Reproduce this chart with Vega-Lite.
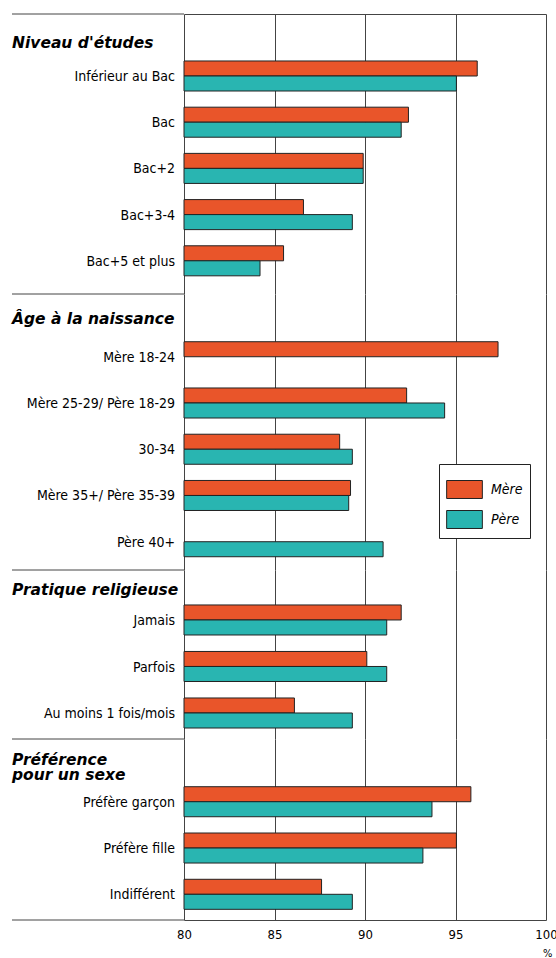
{
  "$schema": "https://vega.github.io/schema/vega-lite/v6.json",
  "background": "white",
  "padding": {"left": 11, "top": 13, "right": 0, "bottom": 0},
  "config": {
    "view": {"stroke": null},
    "font": "DejaVu Sans Condensed, Liberation Sans Narrow, sans-serif",
    "axis": {"gridColor": "#444", "gridOpacity": 1, "gridWidth": 1, "domainColor": "#444", "domainWidth": 1}
  },
  "datasets": {
    "bars": [
      {"section": "S1", "categorie": "Inférieur au Bac", "parent": "Mère", "valeur": 96.2},
      {"section": "S1", "categorie": "Inférieur au Bac", "parent": "Père", "valeur": 95.05},
      {"section": "S1", "categorie": "Bac", "parent": "Mère", "valeur": 92.4},
      {"section": "S1", "categorie": "Bac", "parent": "Père", "valeur": 92.0},
      {"section": "S1", "categorie": "Bac+2", "parent": "Mère", "valeur": 89.9},
      {"section": "S1", "categorie": "Bac+2", "parent": "Père", "valeur": 89.9},
      {"section": "S1", "categorie": "Bac+3-4", "parent": "Mère", "valeur": 86.6},
      {"section": "S1", "categorie": "Bac+3-4", "parent": "Père", "valeur": 89.3},
      {"section": "S1", "categorie": "Bac+5 et plus", "parent": "Mère", "valeur": 85.5},
      {"section": "S1", "categorie": "Bac+5 et plus", "parent": "Père", "valeur": 84.2},
      {"section": "S2", "categorie": "Mère 18-24", "parent": "Mère", "valeur": 97.35},
      {"section": "S2", "categorie": "Mère 25-29/ Père 18-29", "parent": "Mère", "valeur": 92.3},
      {"section": "S2", "categorie": "Mère 25-29/ Père 18-29", "parent": "Père", "valeur": 94.4},
      {"section": "S2", "categorie": "30-34", "parent": "Mère", "valeur": 88.6},
      {"section": "S2", "categorie": "30-34", "parent": "Père", "valeur": 89.3},
      {"section": "S2", "categorie": "Mère 35+/ Père 35-39", "parent": "Mère", "valeur": 89.2},
      {"section": "S2", "categorie": "Mère 35+/ Père 35-39", "parent": "Père", "valeur": 89.1},
      {"section": "S2", "categorie": "Père 40+", "parent": "Père", "valeur": 91.0},
      {"section": "S3", "categorie": "Jamais", "parent": "Mère", "valeur": 92.0},
      {"section": "S3", "categorie": "Jamais", "parent": "Père", "valeur": 91.2},
      {"section": "S3", "categorie": "Parfois", "parent": "Mère", "valeur": 90.1},
      {"section": "S3", "categorie": "Parfois", "parent": "Père", "valeur": 91.2},
      {"section": "S3", "categorie": "Au moins 1 fois/mois", "parent": "Mère", "valeur": 86.1},
      {"section": "S3", "categorie": "Au moins 1 fois/mois", "parent": "Père", "valeur": 89.3},
      {"section": "S4", "categorie": "Préfère garçon", "parent": "Mère", "valeur": 95.85},
      {"section": "S4", "categorie": "Préfère garçon", "parent": "Père", "valeur": 93.7},
      {"section": "S4", "categorie": "Préfère fille", "parent": "Mère", "valeur": 95.05},
      {"section": "S4", "categorie": "Préfère fille", "parent": "Père", "valeur": 93.2},
      {"section": "S4", "categorie": "Indifférent", "parent": "Mère", "valeur": 87.6},
      {"section": "S4", "categorie": "Indifférent", "parent": "Père", "valeur": 89.3}
    ],
    "headers": [
      {"section": "S1", "titre": "Niveau d'études", "premiere": "Inférieur au Bac"},
      {"section": "S2", "titre": "Âge à la naissance", "premiere": "Mère 18-24"},
      {"section": "S3", "titre": "Pratique religieuse", "premiere": "Jamais"},
      {"section": "S4", "titre": "Préférence\npour un sexe", "premiere": "Préfère garçon"}
    ]
  },
  "columns": 2,
  "spacing": 0,
  "bounds": "flush",
  "align": "each",
  "resolve": {
    "scale": {"x": "independent", "y": "independent", "color": "independent"},
    "axis": {"x": "independent", "y": "independent"},
    "legend": {"color": "independent"}
  },
  "concat": [
    {
      "width": 172, "height": 280,
      "data": {"name": "headers"},
      "layer": [
        {
          "transform": [{"filter": "datum.section === 'S1'"}],
          "mark": {"type": "rule", "color": "#444", "strokeWidth": 1},
          "encoding": {"y": {"value": 0}}
        },
        {
          "transform": [{"filter": "datum.section === 'S1'"}],
          "mark": {"type": "text", "align": "left", "baseline": "alphabetic", "dy": -28.3, "font": "DejaVu Sans", "fontSize": 15.5, "fontWeight": "bold", "fontStyle": "italic", "color": "black"},
          "encoding": {
            "x": {"value": 0},
            "y": {"field": "premiere", "type": "nominal", "scale": {"type": "band", "domain": ["Inférieur au Bac", "Bac", "Bac+2", "Bac+3-4", "Bac+5 et plus"], "paddingInner": 0.35, "paddingOuter": 0.705, "align": 0.721}, "axis": null},
            "text": {"field": "titre"}
          }
        },
        {
          "data": {"name": "bars"},
          "transform": [{"filter": "datum.section === 'S1'"}, {"aggregate": [{"op": "count", "as": "n"}], "groupby": ["categorie"]}],
          "mark": {"type": "text", "align": "right", "baseline": "alphabetic", "dx": -9, "dy": 5, "fontSize": 14, "color": "black"},
          "encoding": {
            "x": {"value": "width"},
            "y": {"field": "categorie", "type": "nominal"},
            "text": {"field": "categorie"}
          }
        }
      ]
    },
    {
      "width": 362, "height": 280,
      "data": {"name": "bars"},
      "transform": [{"filter": "datum.section === 'S1'"}],
      "mark": {"type": "bar", "stroke": "#222", "strokeWidth": 1, "clip": false},
      "encoding": {
        "y": {"field": "categorie", "type": "nominal", "scale": {"type": "band", "domain": ["Inférieur au Bac", "Bac", "Bac+2", "Bac+3-4", "Bac+5 et plus"], "paddingInner": 0.35, "paddingOuter": 0.705, "align": 0.721}, "axis": null},
        "yOffset": {"field": "parent", "type": "nominal", "scale": {"domain": ["Mère", "Père"], "paddingInner": 0, "paddingOuter": 0}},
        "x": {"field": "valeur", "type": "quantitative", "stack": null, "scale": {"domain": [80, 100], "zero": false, "nice": false}, "axis": {"orient": "top", "values": [80, 85, 90, 95, 100], "grid": true, "domain": true, "labels": false, "ticks": false, "title": null}},
        "x2": {"datum": 80},
        "color": {"field": "parent", "type": "nominal", "scale": {"domain": ["Mère", "Père"], "range": ["#E9552A", "#29B5B1"]}, "legend": null}
      }
    },
    {
      "width": 172, "height": 276,
      "data": {"name": "headers"},
      "layer": [
        {
          "transform": [{"filter": "datum.section === 'S2'"}],
          "mark": {"type": "rule", "color": "#444", "strokeWidth": 1},
          "encoding": {"y": {"value": 0}}
        },
        {
          "transform": [{"filter": "datum.section === 'S2'"}],
          "mark": {"type": "text", "align": "left", "baseline": "alphabetic", "dy": -33, "font": "DejaVu Sans", "fontSize": 15.5, "fontWeight": "bold", "fontStyle": "italic", "color": "black"},
          "encoding": {
            "x": {"value": 0},
            "y": {"field": "premiere", "type": "nominal", "scale": {"type": "band", "domain": ["Mère 18-24", "Mère 25-29/ Père 18-29", "30-34", "Mère 35+/ Père 35-39", "Père 40+"], "paddingInner": 0.35, "paddingOuter": 0.659, "align": 0.783}, "axis": null},
            "text": {"field": "titre"}
          }
        },
        {
          "data": {"name": "bars"},
          "transform": [{"filter": "datum.section === 'S2'"}, {"aggregate": [{"op": "count", "as": "n"}], "groupby": ["categorie"]}],
          "mark": {"type": "text", "align": "right", "baseline": "alphabetic", "dx": -9, "dy": 5, "fontSize": 14, "color": "black"},
          "encoding": {
            "x": {"value": "width"},
            "y": {"field": "categorie", "type": "nominal"},
            "text": {"field": "categorie"}
          }
        }
      ]
    },
    {
      "width": 362, "height": 276,
      "data": {"name": "bars"},
      "transform": [{"filter": "datum.section === 'S2'"}],
      "mark": {"type": "bar", "stroke": "#222", "strokeWidth": 1, "clip": false},
      "encoding": {
        "y": {"field": "categorie", "type": "nominal", "scale": {"type": "band", "domain": ["Mère 18-24", "Mère 25-29/ Père 18-29", "30-34", "Mère 35+/ Père 35-39", "Père 40+"], "paddingInner": 0.35, "paddingOuter": 0.659, "align": 0.783}, "axis": null},
        "yOffset": {"field": "parent", "type": "nominal", "scale": {"domain": ["Mère", "Père"], "paddingInner": 0, "paddingOuter": 0}},
        "x": {"field": "valeur", "type": "quantitative", "stack": null, "scale": {"domain": [80, 100], "zero": false, "nice": false}, "axis": {"values": [80, 85, 90, 95, 100], "grid": true, "domain": false, "labels": false, "ticks": false, "title": null}},
        "x2": {"datum": 80},
        "color": {
          "field": "parent", "type": "nominal",
          "scale": {"domain": ["Mère", "Père"], "range": ["#E9552A", "#29B5B1"]},
          "legend": {
            "orient": "none", "legendX": 255, "legendY": 170, "title": null, "direction": "vertical",
            "symbolType": "M-1,-0.504L1,-0.504L1,0.504L-1,0.504Z", "symbolSize": 1274,
            "symbolStrokeColor": "#222", "symbolStrokeWidth": 1, "symbolOpacity": 1,
            "labelFontSize": 14, "labelFontStyle": "italic", "labelColor": "black",
            "labelOffset": 8, "rowPadding": 0, "padding": 7,
            "strokeColor": "#222", "fillColor": "white", "cornerRadius": 0
          }
        }
      }
    },
    {
      "width": 172, "height": 169,
      "data": {"name": "headers"},
      "layer": [
        {
          "transform": [{"filter": "datum.section === 'S3'"}],
          "mark": {"type": "rule", "color": "#444", "strokeWidth": 1},
          "encoding": {"y": {"value": 0}}
        },
        {
          "transform": [{"filter": "datum.section === 'S3'"}],
          "mark": {"type": "text", "align": "left", "baseline": "alphabetic", "dy": -25, "font": "DejaVu Sans", "fontSize": 15.5, "fontWeight": "bold", "fontStyle": "italic", "color": "black"},
          "encoding": {
            "x": {"value": 0},
            "y": {"field": "premiere", "type": "nominal", "scale": {"type": "band", "domain": ["Jamais", "Parfois", "Au moins 1 fois/mois"], "paddingInner": 0.35, "paddingOuter": 0.492, "align": 0.764}, "axis": null},
            "text": {"field": "titre"}
          }
        },
        {
          "data": {"name": "bars"},
          "transform": [{"filter": "datum.section === 'S3'"}, {"aggregate": [{"op": "count", "as": "n"}], "groupby": ["categorie"]}],
          "mark": {"type": "text", "align": "right", "baseline": "alphabetic", "dx": -9, "dy": 5, "fontSize": 14, "color": "black"},
          "encoding": {
            "x": {"value": "width"},
            "y": {"field": "categorie", "type": "nominal"},
            "text": {"field": "categorie"}
          }
        }
      ]
    },
    {
      "width": 362, "height": 169,
      "data": {"name": "bars"},
      "transform": [{"filter": "datum.section === 'S3'"}],
      "mark": {"type": "bar", "stroke": "#222", "strokeWidth": 1, "clip": false},
      "encoding": {
        "y": {"field": "categorie", "type": "nominal", "scale": {"type": "band", "domain": ["Jamais", "Parfois", "Au moins 1 fois/mois"], "paddingInner": 0.35, "paddingOuter": 0.492, "align": 0.764}, "axis": null},
        "yOffset": {"field": "parent", "type": "nominal", "scale": {"domain": ["Mère", "Père"], "paddingInner": 0, "paddingOuter": 0}},
        "x": {"field": "valeur", "type": "quantitative", "stack": null, "scale": {"domain": [80, 100], "zero": false, "nice": false}, "axis": {"values": [80, 85, 90, 95, 100], "grid": true, "domain": false, "labels": false, "ticks": false, "title": null}},
        "x2": {"datum": 80},
        "color": {"field": "parent", "type": "nominal", "scale": {"domain": ["Mère", "Père"], "range": ["#E9552A", "#29B5B1"]}, "legend": null}
      }
    },
    {
      "width": 172, "height": 181,
      "data": {"name": "headers"},
      "layer": [
        {
          "transform": [{"filter": "datum.section === 'S4'"}],
          "mark": {"type": "rule", "color": "#444", "strokeWidth": 1},
          "encoding": {"y": {"value": 0}}
        },
        {
          "transform": [{"filter": "datum.section === 'S4'"}],
          "mark": {"type": "rule", "color": "#444", "strokeWidth": 1},
          "encoding": {"y": {"value": "height"}}
        },
        {
          "transform": [{"filter": "datum.section === 'S4'"}],
          "mark": {"type": "text", "align": "left", "baseline": "alphabetic", "dy": -36.5, "lineBreak": "\n", "lineHeight": 15, "font": "DejaVu Sans", "fontSize": 15.5, "fontWeight": "bold", "fontStyle": "italic", "color": "black"},
          "encoding": {
            "x": {"value": 0},
            "y": {"field": "premiere", "type": "nominal", "scale": {"type": "band", "domain": ["Préfère garçon", "Préfère fille", "Indifférent"], "paddingInner": 0.35, "paddingOuter": 0.63, "align": 0.818}, "axis": null},
            "text": {"field": "titre"}
          }
        },
        {
          "data": {"name": "bars"},
          "transform": [{"filter": "datum.section === 'S4'"}, {"aggregate": [{"op": "count", "as": "n"}], "groupby": ["categorie"]}],
          "mark": {"type": "text", "align": "right", "baseline": "alphabetic", "dx": -9, "dy": 5, "fontSize": 14, "color": "black"},
          "encoding": {
            "x": {"value": "width"},
            "y": {"field": "categorie", "type": "nominal"},
            "text": {"field": "categorie"}
          }
        }
      ]
    },
    {
      "width": 362, "height": 181,
      "data": {"name": "bars"},
      "transform": [{"filter": "datum.section === 'S4'"}],
      "mark": {"type": "bar", "stroke": "#222", "strokeWidth": 1, "clip": false},
      "encoding": {
        "y": {"field": "categorie", "type": "nominal", "scale": {"type": "band", "domain": ["Préfère garçon", "Préfère fille", "Indifférent"], "paddingInner": 0.35, "paddingOuter": 0.63, "align": 0.818}, "axis": null},
        "yOffset": {"field": "parent", "type": "nominal", "scale": {"domain": ["Mère", "Père"], "paddingInner": 0, "paddingOuter": 0}},
        "x": {
          "field": "valeur", "type": "quantitative", "stack": null,
          "scale": {"domain": [80, 100], "zero": false, "nice": false},
          "axis": {
            "orient": "bottom", "values": [80, 85, 90, 95, 100], "grid": true, "domain": true, "ticks": false,
            "labels": true, "labelFlush": false, "labelPadding": 8, "labelFontSize": 13, "labelColor": "black",
            "title": "%", "titleFontSize": 11, "titleFontWeight": "normal", "titleColor": "black",
            "titleX": 368, "titleY": 36, "titleAlign": "right", "titleBaseline": "alphabetic"
          }
        },
        "x2": {"datum": 80},
        "color": {"field": "parent", "type": "nominal", "scale": {"domain": ["Mère", "Père"], "range": ["#E9552A", "#29B5B1"]}, "legend": null}
      }
    }
  ]
}
